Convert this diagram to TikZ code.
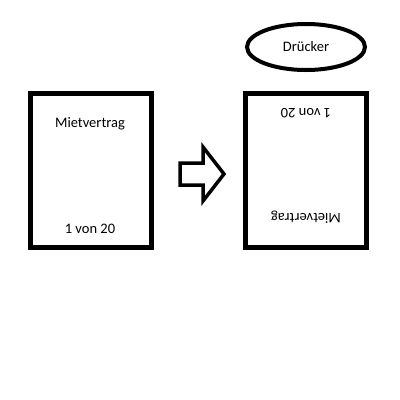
\documentclass[tikz,border=0pt]{standalone}
\usepackage{fontspec}
\setmainfont{Carlito}
\usetikzlibrary{shapes.geometric}
\begin{document}
\begin{tikzpicture}[x=1pt,y=-1pt,
  sheet/.style={draw=black,line width=5pt,fill=white},
  lbl/.style={font=\fontsize{14.5}{17}\selectfont,text=black,inner sep=0pt},
  oval/.style={draw=black,line width=4pt,ellipse,minimum width=118pt,minimum height=46pt,inner sep=0pt,font=\fontsize{14.5}{17}\selectfont}]
\useasboundingbox[fill=white] (0,0) rectangle (400,400);
\draw[sheet] (30.5,93.5) rectangle (151.5,247.5);
\node[coordinate] (left) at (91,170) {};
\node[lbl] (m1) at (90,124) {Mietvertrag};
\node[lbl] (v1) at (90,229) {1 von 20};
\draw[sheet] (245.5,93.5) rectangle (366.5,247.5);
\node[lbl,rotate=180] (v2) at (306,113) {1 von 20};
\node[lbl,rotate=180] (m2) at (306,217) {Mietvertrag};
\node[oval] (dr) at (306,47) {Drücker};
\draw[line width=3.5pt,line join=miter] (180,163) -- (203,163) -- (203,147) -- (224,174) -- (203,201) -- (203,185) -- (180,185) -- cycle;
\end{tikzpicture}
\end{document}
